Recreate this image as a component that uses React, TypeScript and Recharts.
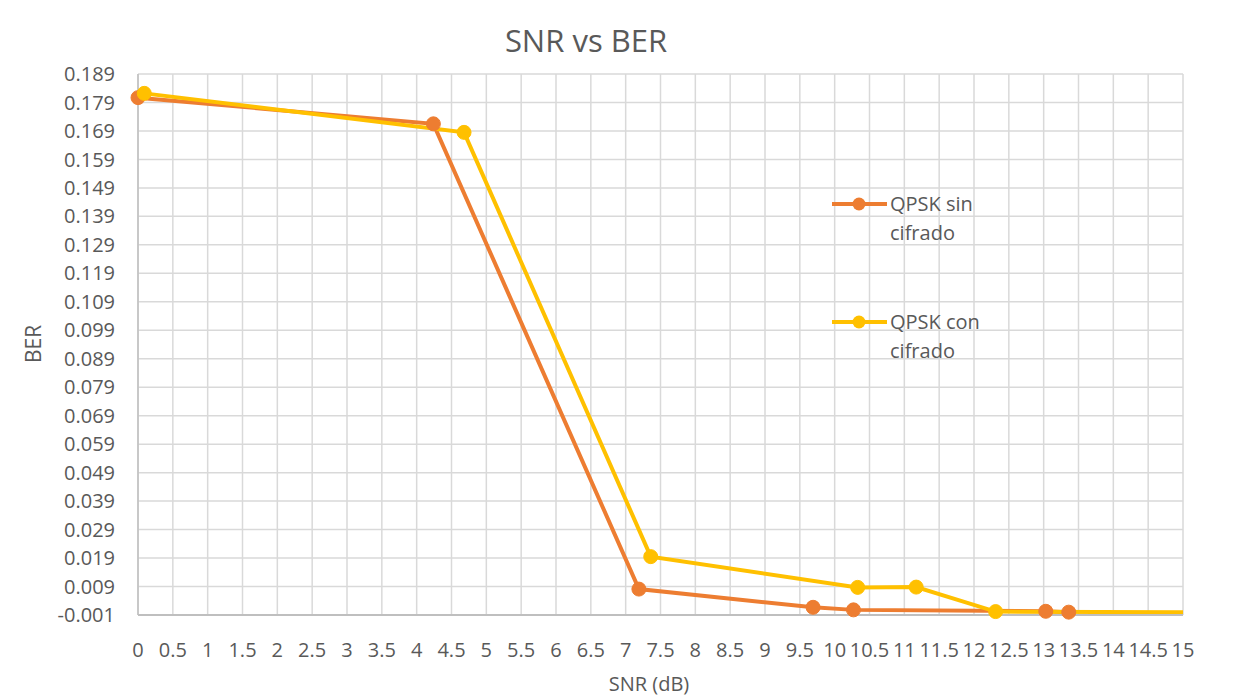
import React from "react";
import { LineChart, Line, XAxis, YAxis, CartesianGrid, Legend } from "recharts";

// QPSK sin cifrado (orange)
const sinCifradoSNR = [0, 4.24, 7.19, 9.69, 10.27, 13.03, 13.36];
const sinCifradoBER = [0.1807, 0.1715, 0.0081, 0.0017, 0.0008, 0.0003, 0.0];
// QPSK con cifrado (yellow)
const conCifradoSNR = [0.09, 4.68, 7.36, 10.33, 11.17, 12.31, 15];
const conCifradoBER = [0.1822, 0.1685, 0.0195, 0.0087, 0.0088, 0.0002, 0.0];

const seriesNames = ["QPSK sin cifrado", "QPSK con cifrado"];
const seriesColors = ["#ED7D31", "#FFC000"];

const xTicks = [0, 0.5, 1, 1.5, 2, 2.5, 3, 3.5, 4, 4.5, 5, 5.5, 6, 6.5, 7, 7.5, 8, 8.5, 9, 9.5, 10, 10.5, 11, 11.5, 12, 12.5, 13, 13.5, 14, 14.5, 15];
const yTicks = [-0.001, 0.009, 0.019, 0.029, 0.039, 0.049, 0.059, 0.069, 0.079, 0.089, 0.099, 0.109, 0.119, 0.129, 0.139, 0.149, 0.159, 0.169, 0.179, 0.189];

const sinData = sinCifradoSNR.map((x, i) => ({ x, y: sinCifradoBER[i] }));
const conData = conCifradoSNR.map((x, i) => ({ x, y: conCifradoBER[i] }));

const FONT = "'Open Sans', sans-serif";
const TEXT = "#595959";

const makeDot = (color: string, skipLast: number) => (props: any) => {
  const { cx, cy, index } = props;
  if (index === skipLast || cx == null || cy == null) return <g key={`d-${color}-${index}`} />;
  return <circle key={`d-${color}-${index}`} cx={cx} cy={cy} r={7} fill={color} stroke={color} strokeWidth={1} />;
};

const renderLegend = () => (
  <div style={{ fontFamily: FONT, fontSize: 20, color: TEXT, lineHeight: "29px" }}>
    {seriesNames.map((name, i) => {
      const words = name.split(" ");
      const first = words.slice(0, 2).join(" ");
      const second = words.slice(2).join(" ");
      return (
        <div key={name} style={{ position: "relative", height: i === 0 ? 118 : 60 }}>
          <svg width={56} height={20} style={{ position: "absolute", left: 0, top: -10 }}>
            <line x1={0} y1={10} x2={55} y2={10} stroke={seriesColors[i]} strokeWidth={4} />
            <circle cx={27} cy={10} r={6.5} fill={seriesColors[i]} />
          </svg>
          <div style={{ position: "absolute", left: 58, top: -15, whiteSpace: "nowrap" }}>
            <div>{first}</div>
            <div>{second}</div>
          </div>
        </div>
      );
    })}
  </div>
);

export default function App() {
  return (
    <div style={{ position: "relative", width: 1231, height: 688, borderLeft: "1px solid #D9D9D9", marginLeft: -1, background: "#fff" }}>
      <div style={{ position: "absolute", left: 0, width: 1156, top: 11, textAlign: "center", fontFamily: FONT, fontSize: 31, color: TEXT, lineHeight: "42px" }}>
        SNR vs BER
      </div>
      <div style={{ position: "absolute", left: 25, top: 336, transform: "translate(-50%, -50%) rotate(-90deg)", fontFamily: FONT, fontSize: 21, color: TEXT, whiteSpace: "nowrap" }}>
        BER
      </div>
      <div style={{ position: "absolute", left: 641, top: 675, transform: "translate(-50%, -50%)", fontFamily: FONT, fontSize: 20, color: TEXT, whiteSpace: "nowrap" }}>
        SNR (dB)
      </div>
      <LineChart width={1231} height={688} margin={{ top: 66, right: 56, left: 0, bottom: 0 }}>
        <CartesianGrid stroke="#D9D9D9" strokeWidth={1.5} horizontalValues={yTicks} verticalValues={xTicks} />
        <XAxis
          type="number"
          dataKey="x"
          domain={[0, 15]}
          ticks={xTicks}
          interval={0}
          height={81}
          tickLine={false}
          tickSize={0}
          tickMargin={28}
          axisLine={{ stroke: "#BFBFBF", strokeWidth: 2 }}
          tick={{ fill: TEXT, fontSize: 20, fontFamily: FONT }}
          tickFormatter={(v: number) => String(v)}
          allowDuplicatedCategory={false}
        />
        <YAxis
          type="number"
          dataKey="y"
          domain={[-0.001, 0.189]}
          ticks={yTicks}
          interval={0}
          width={130}
          tickLine={false}
          tickSize={0}
          tickMargin={23}
          axisLine={{ stroke: "#BFBFBF", strokeWidth: 1.5 }}
          tick={{ fill: TEXT, fontSize: 20, fontFamily: FONT }}
          tickFormatter={(v: number) => v.toFixed(3)}
        />
        <Legend
          layout="vertical"
          align="center"
          verticalAlign="middle"
          content={renderLegend}
          wrapperStyle={{ left: 824, top: 196, width: 200, height: 200 }}
        />
        <Line
          data={sinData}
          dataKey="y"
          name={seriesNames[0]}
          stroke={seriesColors[0]}
          strokeWidth={4}
          dot={makeDot(seriesColors[0], -1)}
          activeDot={false}
          isAnimationActive={false}
          type="linear"
        />
        <Line
          data={conData}
          dataKey="y"
          name={seriesNames[1]}
          stroke={seriesColors[1]}
          strokeWidth={4}
          dot={makeDot(seriesColors[1], conData.length - 1)}
          activeDot={false}
          isAnimationActive={false}
          type="linear"
        />
      </LineChart>
    </div>
  );
}
